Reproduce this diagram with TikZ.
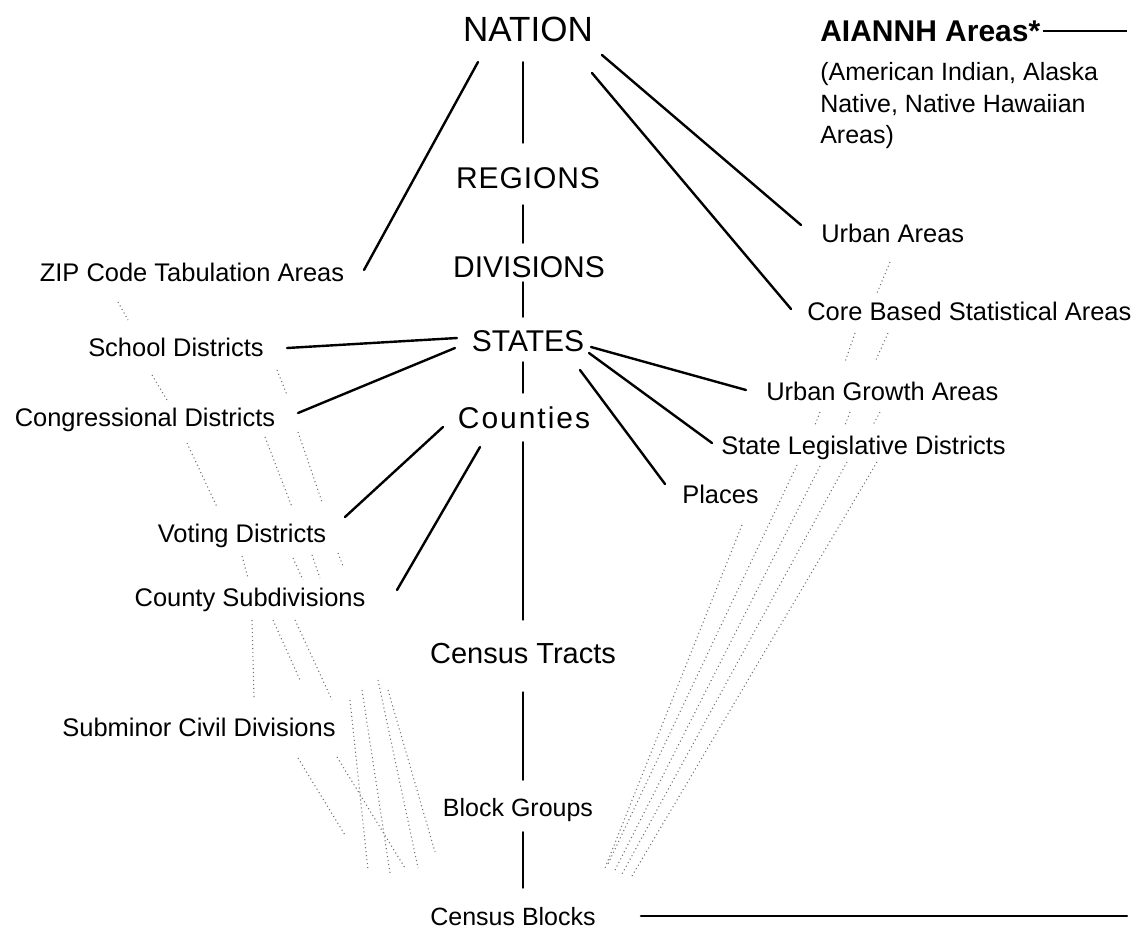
\documentclass[tikz,border=0pt]{standalone}
\usepackage{fontspec}
\setmainfont{Liberation Sans}
\usetikzlibrary{calc}
\begin{document}
\begin{tikzpicture}[x=0.75pt,y=-0.75pt,
  lbl/.style={inner sep=0pt, text height=13.75pt, text depth=0pt, font=\fontsize{19.1pt}{22pt}\selectfont},
  big/.style={lbl, text height=16.2pt, font=\fontsize{22.5pt}{26pt}\selectfont},
  nat/.style={lbl, text height=18.9pt, font=\fontsize{26.25pt}{30pt}\selectfont},
  mid/.style={lbl, text height=15.66pt, font=\fontsize{21.75pt}{25pt}\selectfont},
  low/.style={lbl, text height=13.5pt, font=\fontsize{18.75pt}{22pt}\selectfont},
  rgt/.style={lbl, anchor=west},
  desc/.style={lbl, anchor=west, text height=13.5pt, font=\fontsize{18.75pt}{22pt}\selectfont},
  link/.style={line width=1.8pt, black, line cap=round},
  thin/.style={line width=1.3pt, black},
  dot/.style={black!55, line width=0.8pt, dash pattern=on 0.8pt off 2.2pt}
]
\useasboundingbox (0,0) rectangle (1140,929);
\coordinate (sp) at (523,0);

% central column
\node[nat] (nation) at (528,29) {NATION};
\node[big] (regions) at (528,178) {\addfontfeatures{LetterSpace=3}REGIONS};
\node[big] (divisions) at (529,267) {DIVISIONS};
\node[big] (states) at (528,341) {STATES};
\node[big] (counties) at (524,418) {\addfontfeatures{LetterSpace=6.5}Counties};
\node[mid] (tracts) at (523,653) {Census Tracts};
\node[low] (bg) at (518,807) {Block Groups};
\node[low] (cb) at (513,916) {Census Blocks};

% left column
\node[lbl] (zip) at (192,272) {ZIP Code Tabulation Areas};
\node[lbl] (school) at (176,347) {School Districts};
\node[lbl] (congress) at (145,417) {Congressional Districts};
\node[lbl] (voting) at (242,533) {Voting Districts};
\node[lbl] (cs) at (250,597) {County Subdivisions};
\node[lbl] (subminor) at (199,727) {Subminor Civil Divisions};

% right column
\node[rgt] (ua) at (821,233) {Urban Areas};
\node[rgt] (cbsa) at (807,311) {Core Based Statistical Areas};
\node[rgt] (uga) at (766,391) {Urban Growth Areas};
\node[rgt] (sld) at (721,445) {State Legislative Districts};
\node[rgt] (places) at (682,494) {Places};

% AIANNH
\node[lbl, anchor=west, text height=16.2pt, font=\bfseries\fontsize{22.5pt}{26pt}\selectfont] (ai) at (820,31) {AIANNH Areas*};
\node[desc] (d1) at (820,71) {(American Indian, Alaska};
\node[desc] (d2) at (820,103) {Native, Native Hawaiian};
\node[desc] (d3) at (820,134) {Areas)};
\coordinate (aiEnd) at (1127,31);
\coordinate (cbEnd) at (1127,916);

% spine
\draw[link, shorten <=15.3pt, shorten >=18.2pt] (nation.south -| sp) -- (regions.north -| sp);
\draw[link, shorten <=12.2pt, shorten >=9.9pt] (regions.south -| sp) -- (divisions.north -| sp);
\draw[link, shorten <=3.2pt, shorten >=9.9pt] (divisions.south -| sp) -- (states.north -| sp);
\draw[link, shorten <=7.7pt, shorten >=10.7pt] (states.south -| sp) -- (counties.north -| sp);
\draw[link, shorten <=9.9pt, shorten >=17pt] (counties.south -| sp) -- (tracts.north -| sp);
\draw[link, shorten <=21.5pt, shorten >=13.5pt] (tracts.south -| sp) -- (bg.north -| sp);
\draw[link, shorten <=12pt, shorten >=14.3pt] (bg.south -| sp) -- (cb.north -| sp);

% from NATION
\draw[link] ($(nation)+(-50,33)$) -- ($(zip)+(172,-2)$);
\draw[link] ($(nation)+(74,26)$) -- ($(ua.west)+(-20,-8)$);
\draw[link] ($(nation)+(64,44)$) -- ($(cbsa.west)+(-16,-2)$);
% from STATES
\draw[link] ($(states)+(-71,-3)$) -- ($(school)+(111,1)$);
\draw[link] ($(states)+(-73,7)$) -- ($(congress)+(153,-4)$);
\draw[link] ($(states)+(63,6)$) -- ($(uga.west)+(-20,-1)$);
\draw[link] ($(states)+(61,12)$) -- ($(sld.west)+(-9,-2)$);
\draw[link] ($(states)+(52,29)$) -- ($(places.west)+(-17,-10)$);
% from Counties
\draw[link] ($(counties)+(-81,9)$) -- ($(voting)+(103,-16)$);
\draw[link] ($(counties)+(-44,29)$) -- ($(cs)+(147,-7)$);

% AIANNH and Census Blocks rules
\draw[thin, shorten <=2pt] (ai.east) -- (aiEnd);
\draw[link, shorten <=33.75pt] (cb.east) -- (cbEnd);

% dotted, left
\draw[dot] ($(zip)+(-74,30)$) -- ($(school)+(-48,-27)$);
\draw[dot] ($(school)+(-24,28)$) -- ($(congress)+(22,-17)$);
\draw[dot] ($(school)+(101,23)$) -- ($(voting)+(45,-138)$);
\draw[dot] ($(congress)+(42,26)$) -- ($(voting)+(-25,-26)$);
\draw[dot] ($(congress)+(120,20)$) -- ($(voting)+(50,-26)$);
\draw[dot] ($(congress)+(153,15)$) -- ($(voting)+(80,-31)$);
\draw[dot] ($(voting)+(0,23)$) -- ($(cs)+(-2,-19)$);
\draw[dot] ($(voting)+(51,25)$) -- ($(cs)+(53,-17)$);
\draw[dot] ($(voting)+(70,22)$) -- ($(cs)+(70,-19)$);
\draw[dot] ($(voting)+(96,20)$) -- ($(cs)+(93,-31)$);
\draw[dot] ($(cs)+(2,23)$) -- ($(subminor)+(55,-29)$);
\draw[dot] ($(cs)+(23,23)$) -- ($(subminor)+(101,-47)$);
\draw[dot] ($(cs)+(45,23)$) -- ($(subminor)+(133,-27)$);
\draw[dot] ($(subminor)+(99,31)$) -- ($(cb)+(-168,-81)$);
\draw[dot] ($(subminor)+(138,30)$) -- ($(cb)+(-108,-48)$);
\draw[dot] ($(subminor)+(151,-27)$) -- ($(cb)+(-145,-46)$);
\draw[dot] ($(subminor)+(163,-37)$) -- ($(cb)+(-123,-43)$);
\draw[dot] ($(subminor)+(179,-47)$) -- ($(cb)+(-95,-48)$);
\draw[dot] ($(subminor)+(189,-37)$) -- ($(cb)+(-78,-64)$);

% dotted, right
\draw[dot] ($(ua.west)+(69,29)$) -- ($(cbsa.west)+(70,-18)$);
\draw[dot] ($(cbsa.west)+(48,22)$) -- ($(uga.west)+(79,-29)$);
\draw[dot] ($(cbsa.west)+(81,22)$) -- ($(uga.west)+(109,-29)$);
\draw[dot] ($(uga.west)+(54,21)$) -- ($(sld.west)+(94,-20)$);
\draw[dot] ($(uga.west)+(84,21)$) -- ($(sld.west)+(124,-20)$);
\draw[dot] ($(uga.west)+(114,21)$) -- ($(sld.west)+(152,-20)$);
\draw[dot] ($(sld.west)+(76,20)$) -- ($(cb)+(94,-50)$);
\draw[dot] ($(sld.west)+(99,21)$) -- ($(cb)+(101,-44)$);
\draw[dot] ($(sld.west)+(126,17)$) -- ($(cb)+(109,-42)$);
\draw[dot] ($(sld.west)+(156,17)$) -- ($(cb)+(119,-40)$);
\draw[dot] ($(places.west)+(60,31)$) -- ($(cb)+(92,-48)$);
\end{tikzpicture}
\end{document}
